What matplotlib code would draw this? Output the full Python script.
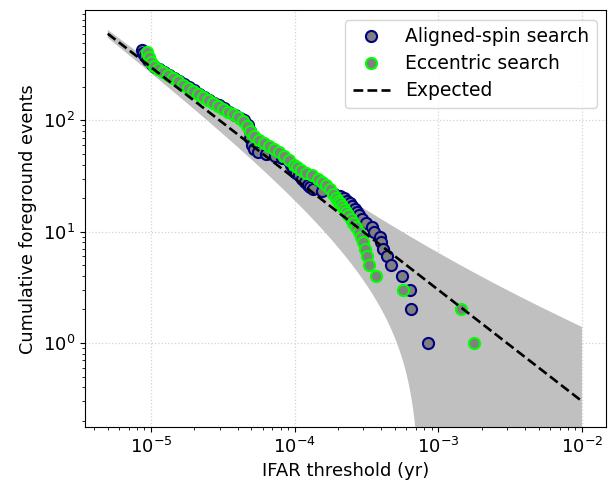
import numpy as np
import matplotlib
matplotlib.use("Agg")
import matplotlib.pyplot as plt

# Cumulative number of foreground events above each IFAR threshold (yr)
aligned_ifar = [8.66e-6, 8.80e-6, 9.08e-6, 9.53e-6, 1.01e-5, 1.07e-5, 1.14e-5, 1.23e-5,
                1.33e-5, 1.45e-5, 1.57e-5, 1.70e-5, 1.84e-5, 1.99e-5, 2.16e-5, 2.34e-5,
                2.53e-5, 2.74e-5, 2.97e-5, 3.22e-5, 3.49e-5, 3.84e-5, 4.16e-5, 4.44e-5,
                4.73e-5, 4.85e-5, 4.92e-5, 5.05e-5, 5.21e-5, 5.55e-5, 6.31e-5, 7.29e-5,
                8.16e-5, 8.99e-5, 9.43e-5, 9.73e-5, 1.02e-4, 1.07e-4, 1.12e-4, 1.18e-4,
                1.24e-4, 1.28e-4, 1.34e-4, 1.55e-4, 1.88e-4, 2.07e-4, 2.20e-4, 2.31e-4,
                2.43e-4, 2.50e-4, 2.63e-4, 2.71e-4, 2.80e-4, 2.94e-4, 3.13e-4, 3.45e-4,
                3.56e-4, 3.92e-4, 3.99e-4, 4.12e-4, 4.39e-4, 4.68e-4, 5.58e-4, 6.35e-4,
                6.45e-4, 8.46e-4]
aligned_count = [430, 405, 375, 345, 320, 302, 288, 272,
                 256, 240, 225, 211, 198, 186, 174, 163,
                 153, 144, 136, 128, 120, 112, 105, 100,
                 90, 80, 70, 60, 55, 52, 50, 48,
                 46, 44, 40, 37, 34, 32, 30, 28,
                 26, 25, 24, 23, 22, 21, 20, 19,
                 18, 17, 16, 15, 14, 13, 12, 11,
                 10, 9, 8, 7, 6, 5, 4, 3,
                 2, 1]

eccentric_ifar = [9.38e-6, 9.68e-6, 1.00e-5, 1.05e-5, 1.12e-5, 1.21e-5, 1.31e-5, 1.42e-5,
                  1.54e-5, 1.67e-5, 1.81e-5, 1.96e-5, 2.12e-5, 2.30e-5, 2.49e-5, 2.70e-5,
                  2.93e-5, 3.17e-5, 3.43e-5, 3.72e-5, 4.03e-5, 4.37e-5, 4.66e-5, 4.89e-5,
                  5.21e-5, 5.64e-5, 6.11e-5, 6.63e-5, 7.18e-5, 7.77e-5, 8.42e-5, 9.13e-5,
                  9.89e-5, 1.04e-4, 1.11e-4, 1.20e-4, 1.32e-4, 1.45e-4, 1.55e-4, 1.65e-4,
                  1.76e-4, 1.85e-4, 1.94e-4, 2.00e-4, 2.07e-4, 2.13e-4, 2.20e-4, 2.28e-4,
                  2.35e-4, 2.47e-4, 2.55e-4, 2.67e-4, 2.80e-4, 2.89e-4, 2.99e-4, 3.08e-4,
                  3.18e-4, 3.29e-4, 3.68e-4, 5.67e-4, 1.44e-3, 1.77e-3]
eccentric_count = [412, 371, 335, 308, 290, 272, 256, 240,
                   226, 208, 196, 184, 173, 162, 152, 143,
                   135, 127, 119, 114, 107, 99, 89, 80,
                   72, 67, 63, 59, 55, 52, 48, 44,
                   40, 38, 36, 34, 32, 30, 28, 26,
                   24, 22, 20, 19, 18, 17, 16, 15,
                   14, 13, 12, 11, 10, 9, 8, 7,
                   6, 5, 4, 3, 2, 1]

# Expected background: N = rate_time / IFAR, with a 2-sigma band
rate_time = 3.0e-3
ifar_range = [5e-6, 1e-2]
n_sigma = 2.0

fig = plt.figure(figsize=(6.08, 4.82), dpi=100)
ax = fig.add_axes([85 / 608, 1 - 427 / 482, (606 - 85) / 608, (427 - 10.5) / 482])

x_exp = np.logspace(np.log10(ifar_range[0]), np.log10(ifar_range[1]), 400)
mu = rate_time / x_exp
lower = mu - n_sigma * np.sqrt(mu)
upper = mu + n_sigma * np.sqrt(mu)
lower = np.where(lower > 0, lower, 1e-3)
ax.fill_between(x_exp, lower, upper, color="silver", lw=0, zorder=1)

ax.plot(aligned_ifar, aligned_count, "o", ls="none", ms=8, mfc="grey",
        mec="navy", mew=1.5, label="Aligned-spin search", zorder=3)
ax.plot(eccentric_ifar, eccentric_count, "o", ls="none", ms=8, mfc="grey",
        mec="lime", mew=1.5, label="Eccentric search", zorder=4)
ax.plot(x_exp, mu, "k--", lw=1.9, label="Expected", zorder=5)

ax.set_xscale("log")
ax.set_yscale("log")
ax.set_xlim(3.47e-6, 1.47e-2)
ax.set_ylim(0.176, 970)
ax.grid(True, which="major", ls=":", color="lightgrey", lw=0.9)
ax.set_axisbelow(True)
ax.set_xlabel("IFAR threshold (yr)", fontsize=13)
ax.set_ylabel("Cumulative foreground events", fontsize=12.7)
ax.tick_params(labelsize=13)
ax.legend(loc="upper right", fontsize=13.5, labelspacing=0.42)

fig.savefig("out.png", dpi=100)
